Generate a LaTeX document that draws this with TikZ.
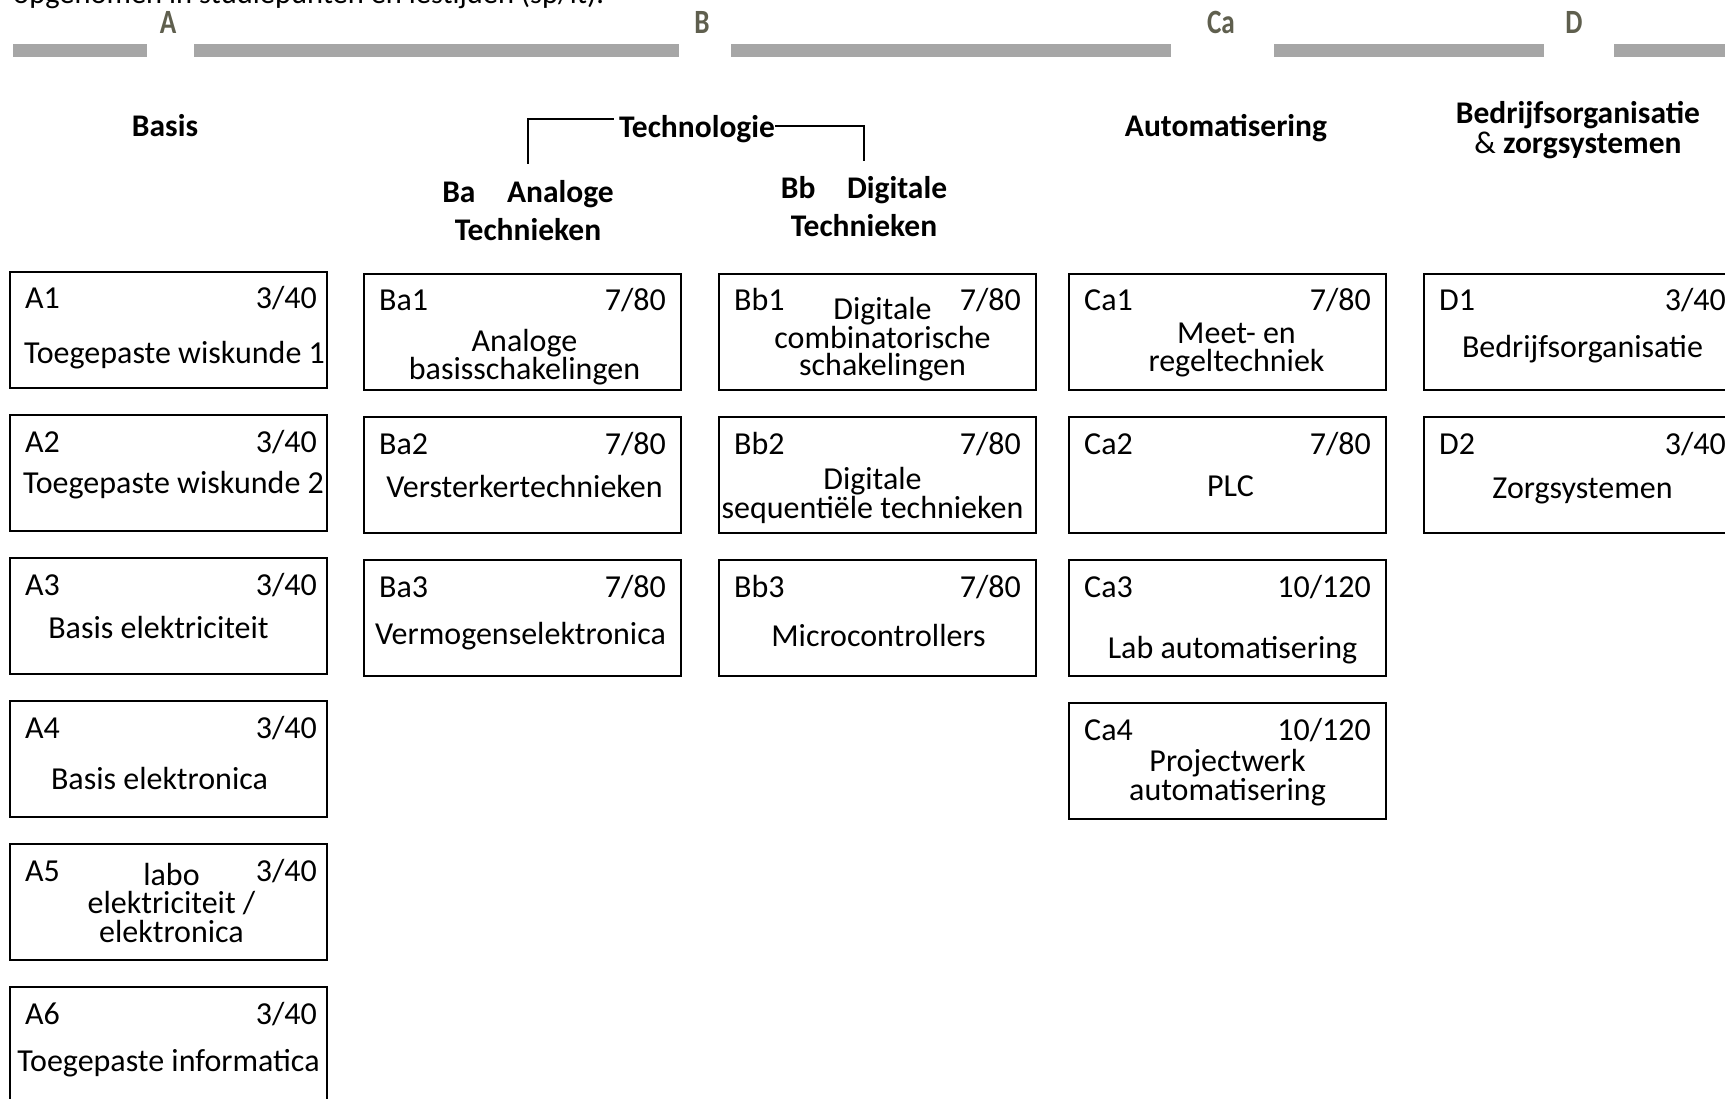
\documentclass[tikz,border=0pt]{standalone}
\usepackage{fontspec}
\setmainfont{Carlito}
\newfontfamily\barfont[FakeStretch=0.8]{Carlito}
\usetikzlibrary{positioning}
\definecolor{bargray}{HTML}{A6A6A6}
\definecolor{olivegray}{HTML}{5F5F4E}

\begin{document}
\begin{tikzpicture}[x=1pt, y=-1pt, node distance=25pt,
    every node/.style={font=\fontsize{32}{27.5}\selectfont, inner sep=0pt},
    module/.style={draw, line width=2pt, minimum width=317pt, minimum height=116pt},
    code/.style={anchor=base west, xshift=16pt, yshift=-38pt},
    credit/.style={anchor=base east, xshift=-16pt, yshift=-38pt},
    title/.style={anchor=base, align=center},
    head/.style={anchor=base, align=center, font=\fontsize{31.5}{38}\selectfont\bfseries},
    bar/.style={fill=bargray},
    barlabel/.style={font=\fontsize{34}{34}\selectfont\barfont\bfseries, text=olivegray},
    bracket/.style={line width=2pt}]
  \useasboundingbox (0,0) rectangle (1725,1099);
  \clip (0,0) rectangle (1725,1099);

  % top line and bars
  \node[anchor=base west, font=\fontsize{30.5}{30}\selectfont] (intro) at (13,4) {opgenomen in studiepunten en lestijden (sp/lt).};
  \fill[bar] (13,44) rectangle (147,57);
  \fill[bar] (194,44) rectangle (679,57);
  \fill[bar] (731,44) rectangle (1171,57);
  \fill[bar] (1274,44) rectangle (1544,57);
  \fill[bar] (1614,44) rectangle (1740,57);
  \node[barlabel] (labA) at (168,22) {A};
  \node[barlabel] (labB) at (702,22) {B};
  \node[barlabel] (labCa) at (1221,22) {Ca};
  \node[barlabel] (labD) at (1574,22) {D};

  % headings (base = last line)
  \node[head] (basis) at (165,137) {Basis};
  \node[head] (tech) at (697,138) {Technologie};
  \node[head] (auto) at (1226,137) {Automatisering};
  \node[head, font=\fontsize{31.5}{30}\selectfont\bfseries] (bedrijf) at (1578,154) {Bedrijfsorganisatie\\{\mdseries\&} zorgsystemen};
  \node[head] (BaHead) at (528,241) {Ba\quad Analoge\\Technieken};
  \node[head] (BbHead) at (864,237) {Bb\quad Digitale\\Technieken};
  \draw[bracket] ([xshift=-5pt,yshift=11pt]tech.west) -| ([yshift=17pt]BaHead.north);
  \draw[bracket] ([yshift=4pt]tech.east) -| ([yshift=16pt]BbHead.north);

  % A
  \node[module, anchor=north west] (A1) at (9,271) {};
  \node[code] (A1c) at (A1.north west) {A1};
  \node[credit, xshift=5pt] (A1s) at (A1.north east) {3/40};
  \node[title, xshift=6pt, yshift=-93pt] (A1t) at (A1.north) {Toegepaste wiskunde 1};
  \node[module, below=of A1] (A2) {};
  \node[code] (A2c) at (A2.north west) {A2};
  \node[credit, xshift=5pt] (A2s) at (A2.north east) {3/40};
  \node[title, xshift=5pt, yshift=-79pt] (A2t) at (A2.north) {Toegepaste wiskunde 2};
  \node[module, below=of A2] (A3) {};
  \node[code] (A3c) at (A3.north west) {A3};
  \node[credit, xshift=5pt] (A3s) at (A3.north east) {3/40};
  \node[title, xshift=-10pt, yshift=-81pt] (A3t) at (A3.north) {Basis elektriciteit};
  \node[module, below=of A3] (A4) {};
  \node[code] (A4c) at (A4.north west) {A4};
  \node[credit, xshift=5pt] (A4s) at (A4.north east) {3/40};
  \node[title, xshift=-9pt, yshift=-89pt] (A4t) at (A4.north) {Basis elektronica};
  \node[module, below=of A4] (A5) {};
  \node[code] (A5c) at (A5.north west) {A5};
  \node[credit, xshift=5pt] (A5s) at (A5.north east) {3/40};
  \node[title, xshift=3pt, yshift=-99pt, font=\fontsize{32}{28.5}\selectfont] (A5t) at (A5.north) {labo\\elektriciteit /\\elektronica};
  \node[module, below=of A5] (A6) {};
  \node[code] (A6c) at (A6.north west) {A6};
  \node[credit, xshift=5pt] (A6s) at (A6.north east) {3/40};
  \node[title, yshift=-85pt] (A6t) at (A6.north) {Toegepaste informatica};

  % Ba
  \node[module, anchor=north west] (Ba1) at (363,273) {};
  \node[code] (Ba1c) at (Ba1.north west) {Ba1};
  \node[credit] (Ba1s) at (Ba1.north east) {7/80};
  \node[title, xshift=2pt, yshift=-107pt] (Ba1t) at (Ba1.north) {Analoge\\basisschakelingen};
  \node[module, below=of Ba1] (Ba2) {};
  \node[code] (Ba2c) at (Ba2.north west) {Ba2};
  \node[credit] (Ba2s) at (Ba2.north east) {7/80};
  \node[title, xshift=2pt, yshift=-81pt] (Ba2t) at (Ba2.north) {Versterkertechnieken};
  \node[module, below=of Ba2] (Ba3) {};
  \node[code] (Ba3c) at (Ba3.north west) {Ba3};
  \node[credit] (Ba3s) at (Ba3.north east) {7/80};
  \node[title, xshift=-2pt, yshift=-85pt] (Ba3t) at (Ba3.north) {Vermogenselektronica};

  % Bb
  \node[module, anchor=north west] (Bb1) at (718,273) {};
  \node[code] (Bb1c) at (Bb1.north west) {Bb1};
  \node[credit] (Bb1s) at (Bb1.north east) {7/80};
  \node[title, xshift=5pt, yshift=-103pt] (Bb1t) at (Bb1.north) {Digitale\\combinatorische\\schakelingen};
  \node[module, below=of Bb1] (Bb2) {};
  \node[code] (Bb2c) at (Bb2.north west) {Bb2};
  \node[credit] (Bb2s) at (Bb2.north east) {7/80};
  \node[title, xshift=-5pt, yshift=-102pt] (Bb2t) at (Bb2.north) {Digitale\\sequentiële technieken};
  \node[module, below=of Bb2] (Bb3) {};
  \node[code] (Bb3c) at (Bb3.north west) {Bb3};
  \node[credit] (Bb3s) at (Bb3.north east) {7/80};
  \node[title, xshift=1pt, yshift=-87pt] (Bb3t) at (Bb3.north) {Microcontrollers};

  % Ca
  \node[module, anchor=north west] (Ca1) at (1068,273) {};
  \node[code] (Ca1c) at (Ca1.north west) {Ca1};
  \node[credit] (Ca1s) at (Ca1.north east) {7/80};
  \node[title, xshift=9pt, yshift=-98pt] (Ca1t) at (Ca1.north) {Meet- en\\regeltechniek};
  \node[module, below=of Ca1] (Ca2) {};
  \node[code] (Ca2c) at (Ca2.north west) {Ca2};
  \node[credit] (Ca2s) at (Ca2.north east) {7/80};
  \node[title, xshift=3pt, yshift=-80pt] (Ca2t) at (Ca2.north) {PLC};
  \node[module, below=of Ca2] (Ca3) {};
  \node[code] (Ca3c) at (Ca3.north west) {Ca3};
  \node[credit] (Ca3s) at (Ca3.north east) {10/120};
  \node[title, xshift=5pt, yshift=-99pt] (Ca3t) at (Ca3.north) {Lab automatisering};
  \node[module, below=of Ca3] (Ca4) {};
  \node[code] (Ca4c) at (Ca4.north west) {Ca4};
  \node[credit] (Ca4s) at (Ca4.north east) {10/120};
  \node[title, yshift=-98pt] (Ca4t) at (Ca4.north) {Projectwerk\\automatisering};

  % D
  \node[module, anchor=north west] (D1) at (1423,273) {};
  \node[code] (D1c) at (D1.north west) {D1};
  \node[credit] (D1s) at (D1.north east) {3/40};
  \node[title, yshift=-85pt] (D1t) at (D1.north) {Bedrijfsorganisatie};
  \node[module, below=of D1] (D2) {};
  \node[code] (D2c) at (D2.north west) {D2};
  \node[credit] (D2s) at (D2.north east) {3/40};
  \node[title, yshift=-82pt] (D2t) at (D2.north) {Zorgsystemen};
\end{tikzpicture}
\end{document}
